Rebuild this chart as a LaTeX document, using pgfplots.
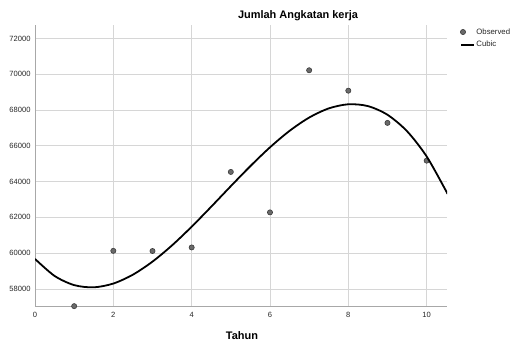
\documentclass[border=0pt]{standalone}
\usepackage{fontspec}
\setmainfont{Liberation Sans}
\usepackage{pgfplots}
\pgfplotsset{compat=1.18}
\definecolor{gridc}{HTML}{D6D6D6}
\definecolor{axc}{HTML}{A8A8A8}
\definecolor{mfill}{HTML}{6A6A6A}
\definecolor{medge}{HTML}{3A3A3A}
\pgfplotsset{
  marklegend/.style={legend image code/.code={\draw[##1] plot coordinates {(1.5bp,0)};}},
  linelegend/.style={legend image code/.code={\draw[##1] (0,0) -- (13bp,0);}},
}
\begin{document}
\begin{tikzpicture}[x=1bp,y=1bp]
\path[use as bounding box] (0,0) rectangle (510,342);
\begin{axis}[
  at={(35bp,35.5bp)}, anchor=south west,
  width=412bp, height=281.5bp, scale only axis,
  xmin=0, xmax=10.52, ymin=57020, ymax=72750,
  xtick={0,2,4,6,8,10},
  ytick={58000,60000,62000,64000,66000,68000,70000,72000},
  scaled y ticks=false, scaled x ticks=false,
  /pgf/number format/1000 sep={},
  /pgf/number format/assume math mode=true,
  tick label style={font=\fontsize{7.6}{8}\selectfont, text=black!85},
  major tick length=0pt,
  xticklabel style={yshift=-2bp},
  yticklabel style={xshift=-1bp},
  axis lines*=left,
  axis line style={axc, line width=1bp},
  grid=major,
  major grid style={gridc, line width=0.8bp},
  clip mode=individual,
  legend style={draw=none, fill=none, at={(1.032,0.992)}, anchor=north west,
    font=\fontsize{7.8}{9}\selectfont, text=black!85, inner sep=0pt,
    row sep=3.5bp, nodes={inner sep=1bp}},
  legend cell align=left,
]
\addplot[only marks, mark=*, mark size=2.6bp, mark options={fill=mfill, draw=medge, line width=0.6bp}, marklegend]
  coordinates {
  (1,57040) (2,60130) (3,60120) (4,60320) (5,64540)
  (6,62280) (7,70220) (8,69080) (9,67280) (10,65170)
  };
\addlegendentry{Observed}
\addplot[black, line width=1.8bp, smooth, no markers, linelegend]
  coordinates {
  (0,59679) (0.5,58728) (1,58216) (1.5,58092) (2,58303) (2.5,58799)
  (3,59528) (3.5,60438) (4,61479) (4.5,62598) (5,63745) (5.5,64867)
  (6,65915) (6.5,66835) (7,67577) (7.5,68089) (8,68320) (8.5,68219)
  (9,67733) (9.5,66813) (10,65405) (10.5,63459) (10.52,63369)
  };
\addlegendentry{Cubic}
\end{axis}
\node[font=\bfseries\fontsize{11}{13}\selectfont] at (298,326) {Jumlah Angkatan kerja};
\node[font=\bfseries\fontsize{11}{13}\selectfont] at (242,6.5) {Tahun};
\end{tikzpicture}
\end{document}
